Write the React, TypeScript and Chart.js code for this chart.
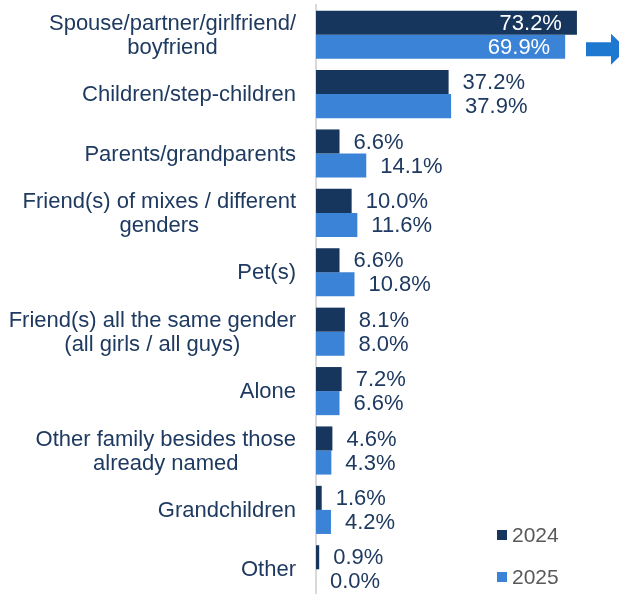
import React, { useEffect, useRef } from "react";
import { Chart, registerables } from "chart.js";

Chart.register(...registerables);

const categories: string[][] = [
  ["Spouse/partner/girlfriend/", "boyfriend"],
  ["Children/step-children"],
  ["Parents/grandparents"],
  ["Friend(s) of mixes / different", "genders"],
  ["Pet(s)"],
  ["Friend(s) all the same gender", "(all girls / all guys)"],
  ["Alone"],
  ["Other family besides those", "already named"],
  ["Grandchildren"],
  ["Other"],
];
const seriesNames = ["2024", "2025"];
const values2024 = [73.2, 37.2, 6.6, 10.0, 6.6, 8.1, 7.2, 4.6, 1.6, 0.9];
const values2025 = [69.9, 37.9, 14.1, 11.6, 10.8, 8.0, 6.6, 4.3, 4.2, 0.0];

const DARK = "#17365D";
const BLUE = "#3B83D6";
const TEXT = "#1F3A60";
const FONT = "'Liberation Sans', Arial, sans-serif";

const labelsPlugin = {
  id: "customLabels",
  afterDraw(chart: any) {
    const ctx = chart.ctx;
    const yScale = chart.scales.y;
    const area = chart.chartArea;
    ctx.save();
    // category labels: block right-aligned, lines centered
    ctx.font = `22px ${FONT}`;
    ctx.fillStyle = TEXT;
    ctx.textBaseline = "middle";
    ctx.textAlign = "center";
    const rightEdge = area.left - 20;
    const lh = 24;
    categories.forEach((lines, i) => {
      const y = yScale.getPixelForValue(i);
      const maxW = Math.max(...lines.map((l) => ctx.measureText(l).width));
      const cx = rightEdge - maxW / 2;
      const y0 = y - ((lines.length - 1) * lh) / 2;
      lines.forEach((l, j) => ctx.fillText(l, cx, y0 + j * lh + 1));
    });
    // value labels
    ctx.font = `22px ${FONT}`;
    chart.data.datasets.forEach((ds: any, di: number) => {
      const meta = chart.getDatasetMeta(di);
      meta.data.forEach((bar: any, i: number) => {
        const v = ds.data[i];
        const txt = v.toFixed(1) + "%";
        if (v > 60) {
          ctx.fillStyle = "#FFFFFF";
          ctx.textAlign = "right";
          ctx.fillText(txt, bar.x - 15, bar.y + 1);
        } else {
          ctx.fillStyle = TEXT;
          ctx.textAlign = "left";
          ctx.fillText(txt, bar.x + 14, bar.y + 1);
        }
      });
    });
    // legend
    ctx.font = `21px ${FONT}`;
    ctx.textAlign = "left";
    const legendY = [535, 577];
    [DARK, BLUE].forEach((c, i) => {
      ctx.fillStyle = c;
      ctx.fillRect(497, legendY[i] - 5, 10, 10);
      ctx.fillStyle = "#595959";
      ctx.fillText(seriesNames[i], 512, legendY[i] + 1);
    });
    // arrow next to top bar
    const yA = yScale.getPixelForValue(0) + 14.5;
    ctx.fillStyle = "#1F78CF";
    ctx.beginPath();
    ctx.moveTo(586, yA - 7);
    ctx.lineTo(611, yA - 7);
    ctx.lineTo(611, yA - 15.5);
    ctx.lineTo(627, yA);
    ctx.lineTo(611, yA + 15.5);
    ctx.lineTo(611, yA + 7);
    ctx.lineTo(586, yA + 7);
    ctx.closePath();
    ctx.fill();
    ctx.restore();
  },
};

export default function App() {
  const ref = useRef<HTMLCanvasElement>(null);
  useEffect(() => {
    if (!ref.current) return;
    const chart = new Chart(ref.current, {
      type: "bar",
      data: {
        labels: categories.map((c) => c.join(" ")),
        datasets: [
          {
            label: seriesNames[0],
            data: values2024,
            backgroundColor: DARK,
            categoryPercentage: 0.81,
            barPercentage: 1,
          },
          {
            label: seriesNames[1],
            data: values2025,
            backgroundColor: BLUE,
            categoryPercentage: 0.81,
            barPercentage: 1,
          },
        ],
      },
      options: {
        indexAxis: "y",
        animation: false,
        responsive: false,
        devicePixelRatio: 1,
        layout: { padding: { left: 316, right: 0, top: 5, bottom: 1 } },
        plugins: { legend: { display: false }, tooltip: { enabled: false } },
        scales: {
          x: { display: false, min: 0, max: 85 },
          y: {
            display: true,
            ticks: { display: false },
            grid: { display: false },
            border: { display: true, color: "#D9D9D9", width: 2 },
            afterFit: (s: any) => {
              s.width = 0;
            },
          },
        },
      },
      plugins: [labelsPlugin],
    });
    return () => chart.destroy();
  }, []);
  return (
    <div style={{ position: "fixed", left: 0, top: 0, width: 619, height: 600, background: "#fff" }}>
      <canvas ref={ref} width={619} height={600} style={{ width: 619, height: 600 }} />
    </div>
  );
}
